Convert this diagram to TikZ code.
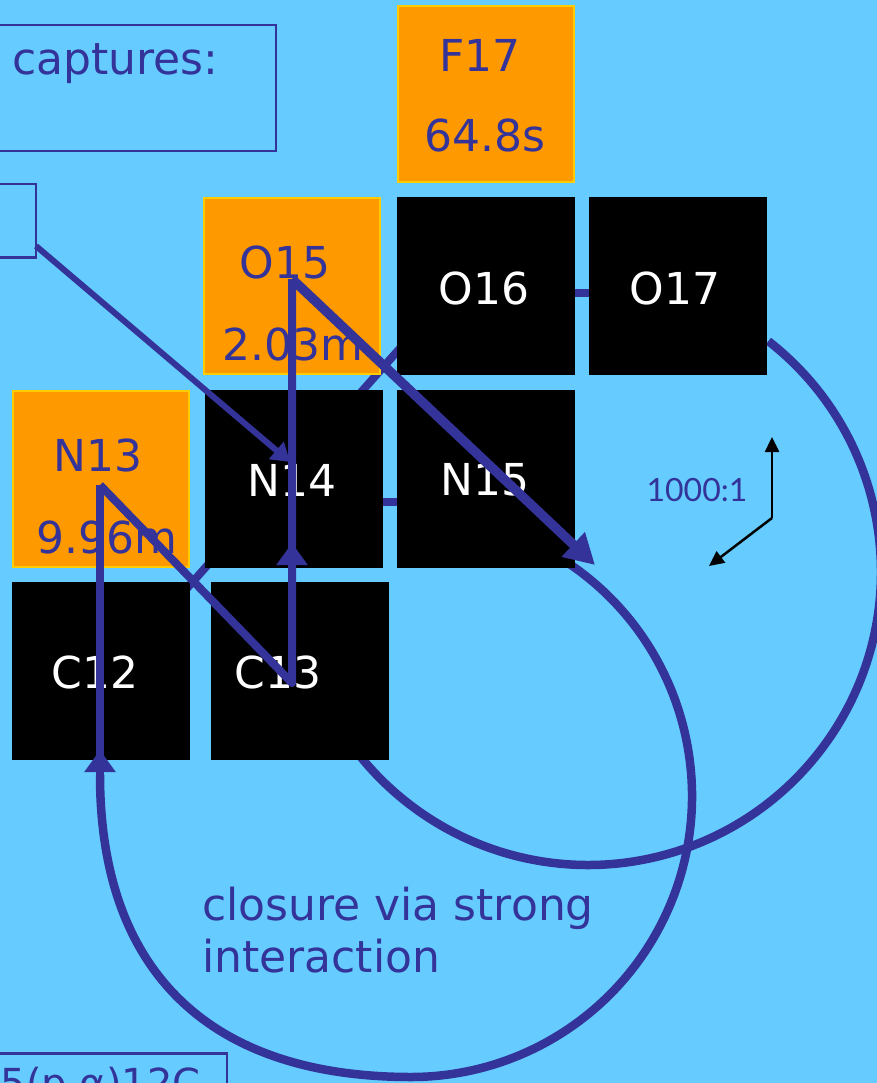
\documentclass[tikz,border=0pt]{standalone}
\usepackage{fontspec}
\setmainfont{DejaVu Sans}
\newfontfamily\ratiofont{Lato}
\usetikzlibrary{arrows.meta}
\definecolor{sky}{HTML}{66CCFF}
\definecolor{ink}{HTML}{333399}
\definecolor{amber}{HTML}{FF9900}
\definecolor{gold}{HTML}{FFCC00}

\begin{document}
\begin{tikzpicture}[x=1pt,y=-1pt,
  nuc/.style={minimum size=178pt, inner sep=0pt, outer sep=0pt},
  stable/.style={nuc, fill=black},
  unstable/.style={nuc, minimum size=176pt, fill=amber, draw=gold, line width=2pt},
  darktext/.style={text=white, font=\fontsize{44}{44}\selectfont, inner sep=0pt},
  litetext/.style={text=ink, font=\fontsize{44}{44}\selectfont, inner sep=0pt},
  flow/.style={draw=ink, line width=8pt},
  loop/.style={draw=ink, line width=8.5pt},
  uptip/.style={-{Triangle[length=22pt,width=30pt]}},
  framebox/.style={draw=ink, line width=2.5pt, inner sep=0pt},
]
\useasboundingbox (0,0) rectangle (877,1083);
\clip (0,0) rectangle (877,1083);
\fill[sky] (0,0) rectangle (877,1083);

% text frames at the left edge
\node[framebox, anchor=north east, minimum width=300pt, minimum height=126pt] (capbox) at (277,24) {};
\node[litetext, anchor=base west] (captxt) at (12,75) {captures:};
\node[framebox, anchor=north east, minimum width=60pt, minimum height=73pt] (hotbox) at (37,183) {};
\node[framebox, anchor=north east, minimum width=260pt, minimum height=60pt] (eqbox) at (228,1052) {};
\node[text=ink, font=\fontsize{40}{40}\selectfont, inner sep=0pt, anchor=base east] (eqtxt) at (201,1097) {5(p,α)12C};

% strokes running behind the nuclide squares
\coordinate (hidA) at (150,630);
\coordinate (hidB) at (410,337);
\draw[flow] (hidA) -- (hidB);
\coordinate (hidC) at (560,293);
\coordinate (hidD) at (605,293);
\draw[flow] (hidC) -- (hidD);
\coordinate (hidE) at (370,502);
\coordinate (hidF) at (410,502);
\draw[flow] (hidE) -- (hidF);

% loops closing the cycles
\coordinate (loopc) at (588,572);
\draw[loop] (loopc) ++(52:293pt) arc[start angle=52,end angle=-142,radius=293pt];
\coordinate (cyclec) at (411,796);
\coordinate (c12low) at (100,775);
\draw[loop] (cyclec) ++(57:281pt) arc[start angle=57,end angle=-90,radius=281pt]
  .. controls (209,1077) and (100,971) .. (c12low);

% nuclide squares
\node[unstable] (F17) at (486,94) {};
\node[unstable] (O15) at (291.5,286) {};
\node[stable]   (O16) at (486,286) {};
\node[stable]   (O17) at (678,286) {};
\node[unstable] (N13) at (101,478.5) {};
\node[stable]   (N14) at (294,478.5) {};
\node[stable]   (N15) at (486,478.5) {};
\node[stable]   (C12) at (101,671) {};
\node[stable]   (C13) at (300,671) {};

% labels
\node[litetext] (F17a) at (480,55) {F17};
\node[litetext] (F17b) at (485,135) {64.8s};
\node[litetext] (O15a) at (285,262) {O15};
\node[litetext] (O15b) at (293,344) {2.03m};
\node[litetext] (N13a) at (98,455) {N13};
\node[litetext] (N13b) at (107,537) {9.96m};
\node[darktext] (O16a) at (484,288) {O16};
\node[darktext] (O17a) at (675,288) {O17};
\node[darktext] (N14a) at (292,480) {N14};
\node[darktext] (N15a) at (485,480) {N15};
\node[darktext] (C12a) at (95,672) {C12};
\node[darktext] (C13a) at (278,672) {C13};

% reaction path
\coordinate (n13top) at (100,485);
\coordinate (c13pt) at (292,683);
\coordinate (o15top) at (292,279);
\coordinate (n15end) at (595,565);
\coordinate (hotout) at (36,246);
\coordinate (n14in) at (290,462);

\draw[loop] ([yshift=3pt]c12low) -- (n13top);
\draw[flow, uptip] (c12low) -- (100,750);

\draw[flow, line join=round] (n13top) -- (c13pt) -- (o15top);
\draw[flow, uptip] (292,600) -- (292,543);
\draw[draw=ink, line width=9.5pt, -{Triangle[length=30pt,width=32pt]}] (o15top) -- (n15end);
\draw[draw=ink, line width=6pt, -{Triangle[length=18pt,width=22pt]}] (hotout) -- (n14in);

% ratio indicator
\coordinate (ratioc) at (772,518);
\coordinate (ratioup) at (772,437);
\coordinate (ratiodn) at (709,566);
\draw[black, line width=2.5pt, -{Triangle[length=15pt,width=14pt]}] (ratioc) -- (ratioup);
\draw[black, line width=2.5pt, -{Triangle[length=15pt,width=14pt]}] (ratioc) -- (ratiodn);
\node[text=ink, font=\ratiofont\fontsize{32}{32}\selectfont, inner sep=0pt] (ratio) at (697,490) {1000:1};

% caption
\node[litetext, anchor=base west] (cap1) at (202,920) {closure via strong};
\node[litetext, anchor=base west] (cap2) at (202,972) {interaction};
\end{tikzpicture}
\end{document}
